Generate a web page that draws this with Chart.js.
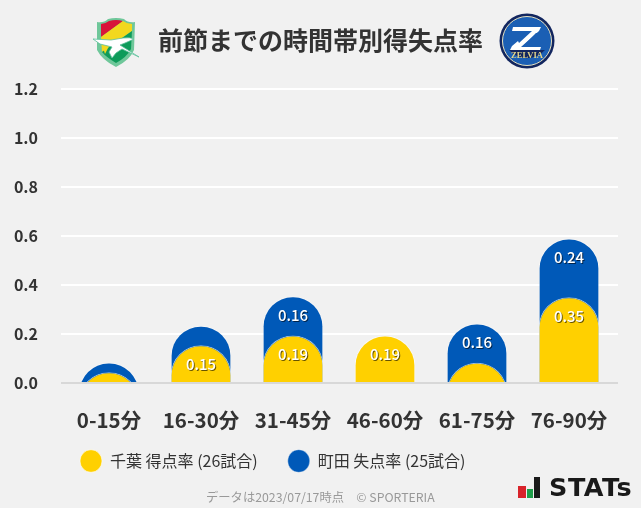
<!DOCTYPE html>
<html lang="ja">
<head>
<meta charset="utf-8">
<title>前節までの時間帯別得失点率</title>
<script src="https://cdn.jsdelivr.net/npm/chart.js@4/dist/chart.umd.min.js"></script>
<style>
  html, body { margin: 0; padding: 0; background: #f1f1f1; }
  #wrap { position: relative; width: 641px; height: 508px; overflow: hidden; font-family: "Noto Sans CJK JP", "Noto Sans", sans-serif; }
  canvas { position: absolute; left: 0; top: 0; }
  .logo { position: absolute; }
  #note { position: absolute; left: 206px; top: 488px; font-size: 12.3px; line-height: 18px; color: #999; white-space: pre; }
  #stats { position: absolute; left: 549px; top: 473px; font: bold 25px/30px "DejaVu Sans", sans-serif; color: #1a1a1a; letter-spacing: 0.5px; transform: scaleX(1.02); transform-origin: left; }
</style>
</head>
<body>
<div id="wrap">
  <canvas id="chart" width="641" height="508"></canvas>

  <!-- JEF crest -->
  <svg class="logo" style="left:92px;top:16px" width="48" height="52" viewBox="0 0 48 52">
    <path d="M5 6 Q12 7 16 3 Q24 1 32 3 Q36 7 43 6 L42 34 Q38 44 24 51 Q10 44 5 34 Z" fill="#6fc79a"/>
    <path d="M9 8 Q13 8 17 5 Q24 3 31 5 L9 21 Z" fill="#d8143a"/>
    <path d="M9 21 L31 5 Q35 8 40 8 L40 15 L10 36 Z" fill="#f2d81e"/>
    <path d="M10 36 L40 15 L39 33 Q35 41 24 47 Q14 41 10 36 Z" fill="#0d9b5a"/>
    <path d="M10 28 L18 28 L13 38 Z" fill="#f2d81e"/>
    <path d="M1 23 L19 24 L31 22 Q38 21 42 23 L33 27 L28 29 L47 41 L30 33 L24 37 L20 42 L17 36 L20 31 L8 28 Z" fill="#fff" stroke="#5cbf9a" stroke-width="0.8"/>
  </svg>

  <!-- Zelvia crest -->
  <svg class="logo" style="left:499px;top:13px" width="56" height="56" viewBox="0 0 56 56">
    <circle cx="28" cy="28" r="27.5" fill="#12265f"/>
    <circle cx="28" cy="28" r="24.5" fill="#1b5fb4" stroke="#e8e2c0" stroke-width="1"/>
    <path d="M10 37 A24 24 0 0 0 46 37 Z" fill="#12265f"/>
    <path d="M14 14 H42 L40 18 L22 34 H42 L41 37 H11 L13 33 L31 18 H13 Z" fill="#fff"/>
    <path d="M18 26 L29 18 H33 L20 30 Z M37 20 L24 33 H28 L41 20 Z" fill="#1b5fb4"/>
    <text x="28" y="44.5" text-anchor="middle" font-family="Liberation Serif" font-weight="bold" font-size="8.5" fill="#e3d68a">ZELVIA</text>
  </svg>

  <div id="note">データは2023/07/17時点　© SPORTERIA</div>

  <svg class="logo" style="left:517px;top:476px" width="24" height="24" viewBox="0 0 24 24">
    <rect x="1" y="10" width="8" height="12" fill="#d8232a"/>
    <rect x="10" y="13" width="6" height="9" fill="#1f9e4a"/>
    <rect x="17" y="1" width="6" height="21" fill="#1a1a1a"/>
  </svg>
  <div id="stats">STATs</div>
</div>

<script>
// Chart data
const categories = ['0-15分', '16-30分', '31-45分', '46-60分', '61-75分', '76-90分'];
const chibaRate = [0.044, 0.154, 0.194, 0.194, 0.083, 0.35];
const machidaRate = [0.04, 0.08, 0.16, 0, 0.16, 0.24];
const yTicks = [0, 0.2, 0.4, 0.6, 0.8, 1.0, 1.2];
const seriesNames = ['千葉 得点率 (26試合)', '町田 失点率 (25試合)'];

const FONT = '"Noto Sans CJK JP", "Noto Sans", sans-serif';
// bars start below the axis so a short bar keeps its full round top, the chart area clips the rest
const BELOW_AXIS = -0.5;

// White grid lines, a bit wider than the plot, and the grey zero line
const gridPlugin = {
  id: 'gridLines',
  beforeDatasetsDraw(chart) {
    const { ctx, chartArea, scales } = chart;
    ctx.save();
    ctx.strokeStyle = '#ffffff';
    ctx.lineWidth = 2;
    yTicks.filter(t => t > 0).forEach(t => {
      const y = Math.round(scales.y.getPixelForValue(t));
      ctx.beginPath();
      ctx.moveTo(chartArea.left - 2, y);
      ctx.lineTo(chartArea.right + 3, y);
      ctx.stroke();
    });
    ctx.restore();
  },
  afterDatasetsDraw(chart) {
    const { ctx, chartArea, scales } = chart;
    const y = Math.round(scales.y.getPixelForValue(0));
    ctx.save();
    ctx.strokeStyle = '#d8d8d8';
    ctx.lineWidth = 2;
    ctx.beginPath();
    ctx.moveTo(chartArea.left - 2, y);
    ctx.lineTo(chartArea.right + 3, y);
    ctx.stroke();
    ctx.restore();
  }
};

// White value labels just under the top of each bar, small values have none
const valueLabelPlugin = {
  id: 'valueLabels',
  afterDraw(chart) {
    const { ctx } = chart;
    ctx.save();
    ctx.font = '500 15px ' + FONT;
    ctx.textAlign = 'center';
    ctx.textBaseline = 'middle';
    [chibaRate, machidaRate].forEach((values, i) => {
      const bars = chart.getDatasetMeta(i).data;
      values.forEach((v, j) => {
        if (v < 0.1) return;
        const text = v.toFixed(2);
        // floating bars swap y and base when the start is the longer end
        const top = Math.min(bars[j].y, bars[j].base);
        // dark copy first, it works as the text shadow
        ctx.fillStyle = 'rgba(0, 0, 0, 0.6)';
        ctx.fillText(text, bars[j].x + 1, top + 20);
        ctx.fillStyle = '#ffffff';
        ctx.fillText(text, bars[j].x, top + 19);
      });
    });
    ctx.restore();
  }
};

// Put the legend and title where the reference has them
const placePlugin = {
  id: 'place',
  afterLayout(chart) {
    chart.legend.left = 50;
    chart.legend.top = 423;
    chart.titleBlock.right = 641;
    chart.titleBlock.top += 4;
    chart.titleBlock.bottom += 4;
  }
};

new Chart(document.getElementById('chart'), {
  type: 'bar',
  data: {
    labels: categories,
    datasets: [
      {
        label: seriesNames[0],
        data: chibaRate.map(v => [BELOW_AXIS, v]),
        backgroundColor: '#ffd000',
        borderColor: 'rgba(255, 255, 255, 0.6)',
        borderWidth: 1,
        borderSkipped: false,
        borderRadius: { topLeft: 30, topRight: 30, bottomLeft: 0, bottomRight: 0 },
        order: 1
      },
      {
        label: seriesNames[1],
        // machida sits on top of chiba, nothing to draw when it is zero
        data: machidaRate.map((v, i) => v > 0 ? [BELOW_AXIS, chibaRate[i] + v] : null),
        backgroundColor: '#0059b8',
        borderColor: 'rgba(255, 255, 255, 0.35)',
        borderWidth: 1,
        borderSkipped: false,
        borderRadius: { topLeft: 30, topRight: 30, bottomLeft: 0, bottomRight: 0 },
        order: 2
      }
    ]
  },
  options: {
    responsive: false,
    animation: false,
    barPercentage: 0.66,
    categoryPercentage: 1,
    layout: { padding: { left: 0, right: 26, top: 0, bottom: 0 } },
    scales: {
      x: {
        stacked: true,
        afterFit(scale) { scale.height = 69; },
        grid: { display: false, drawTicks: false },
        border: { display: false },
        ticks: {
          color: '#333333',
          padding: 25,
          font: { family: FONT, size: 20.5, weight: 'bold' }
        }
      },
      y: {
        min: 0,
        max: 1.2,
        afterFit(scale) { scale.width = 63; },
        afterBuildTicks(scale) { scale.ticks = yTicks.map(value => ({ value })); },
        grid: { display: false, drawTicks: false },
        border: { display: false },
        ticks: {
          color: '#333333',
          padding: 25,
          font: { family: FONT, size: 16, weight: 'bold' },
          callback: v => v.toFixed(1)
        }
      }
    },
    plugins: {
      tooltip: { enabled: false },
      title: {
        display: true,
        text: '前節までの時間帯別得失点率',
        color: '#333333',
        padding: { top: 21, bottom: 38 },
        font: { family: FONT, size: 25, weight: 'bold' }
      },
      legend: {
        position: 'bottom',
        align: 'start',
        labels: {
          color: '#333333',
          padding: 30,
          usePointStyle: true,
          boxHeight: 16,
          pointStyleWidth: 22,
          font: { family: FONT, size: 16 }
        }
      }
    }
  },
  plugins: [gridPlugin, valueLabelPlugin, placePlugin]
});
</script>
</body>
</html>
